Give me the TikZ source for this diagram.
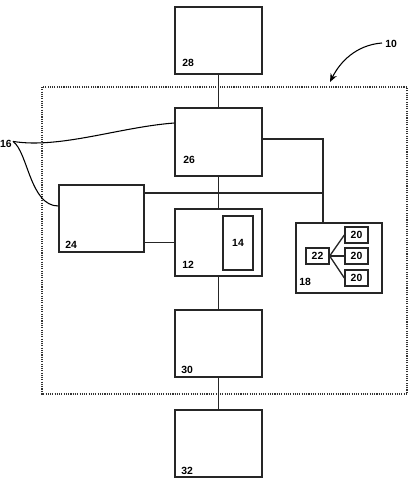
\documentclass[tikz,border=0pt]{standalone}
\usepackage{fontspec}
\setmainfont{Liberation Sans}
\usetikzlibrary{arrows.meta,calc}
\tikzset{
  blk/.style  = {draw=black!85, line width=1pt, inner sep=0pt,
                 minimum width=65.25pt, minimum height=50.25pt},
  sub/.style  = {draw=black!85, line width=1pt, inner sep=0pt,
                 minimum width=17.25pt, minimum height=12pt, font=\numfont},
  num/.style  = {anchor=base west, inner sep=0pt, font=\numfont},
  wire/.style = {draw=black!85, line width=1pt},
  sys/.style  = {draw=black!80, line width=0.8pt, dash pattern=on 0.8pt off 0.9pt},
  lead/.style = {draw=black, line width=0.8pt},
  ar/.style   = {-{Stealth[length=2.2mm,width=1.8mm]}, line width=0.8pt}
}
\newcommand{\numfont}{\fontsize{7.8}{9}\selectfont\bfseries}

\begin{document}
\begin{tikzpicture}[x=0.75pt, y=-0.75pt]
  \useasboundingbox (0,0) rectangle (416,490);
  % system boundary
  \draw[sys] (42,87) rectangle (407,394);
  % main chain
  \node[blk] (b28) at (218.5,40.5) {};
  \node[blk, minimum height=51pt] (b26) at (218.5,142) {};
  \node[blk, minimum width=63.75pt] (b24) at (101.5,218.5) {};
  \node[blk] (b12) at (218.5,242.5) {};
  \node[sub, minimum width=22.5pt, minimum height=40.5pt] (b14) at (238,243) {14};
  \node[blk] (b30) at (218.5,343.5) {};
  \node[blk] (b32) at (218.5,443.5) {};
  % unit 18
  \node[blk, minimum width=64.5pt, minimum height=52.5pt] (b18) at (339,258) {};
  \node[sub] (b22) at (317.5,256) {22};
  \node[sub] (b20a) at (356.5,235) {20};
  \node[sub] (b20b) at (356.5,256) {20};
  \node[sub] (b20c) at (356.5,278) {20};
  % numbers
  \node[num] (t28) at (182,66) {28};
  \node[num] (t26) at (183,163) {26};
  \node[num] (t24) at (65,248) {24};
  \node[num] (t12) at (182,268) {12};
  \node[num] (t30) at (181,373) {30};
  \node[num] (t32) at (181,474) {32};
  \node[num] (t18) at (299,285) {18};
  \node[num, anchor=base east] (t16) at (12,147) {16};
  \node[num] (t10) at (385,47) {10};
  % junctions
  \coordinate (j1) at (323,139);
  \coordinate (j2) at (323,193);
  % wiring
  \draw[wire] (b28) -- (b26);
  \draw[wire] (b26) -- (b12);
  \draw[wire] (b12) -- (b30);
  \draw[wire] (b30) -- (b32);
  \draw[wire] (b26.east |- j1) -- (j1) -- (j1 |- b18.north);
  \draw[wire] (b24.east |- j2) -- (j2);
  \draw[wire] (b12.west) -- (b12.west -| b24.east);
  \foreach \t in {b20a,b20b,b20c}
    \draw[wire] (b22.east) -- (\t.west);
  % leaders
  \draw[lead] (t16.east) ++(1,-2) coordinate (c16)
    .. controls (60,149) and (120,127) .. (b26.west |- 0,123);
  \draw[lead] (c16) .. controls (28,152) and (30,206) .. (b24.west |- 0,206);
  \draw[lead, ar] (382,43) .. controls (356,45) and (340,62) .. (330,82);
\end{tikzpicture}
\end{document}
